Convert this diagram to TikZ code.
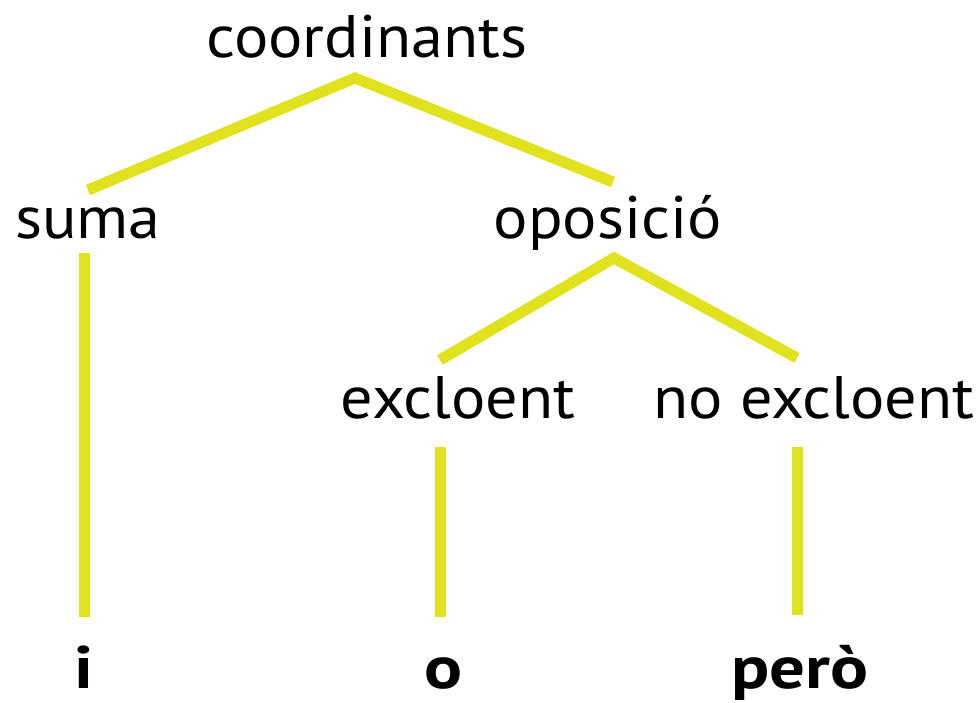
\documentclass[tikz,border=0pt]{standalone}
\usepackage{fontspec}
\setmainfont[FakeStretch=1.07]{PT Sans}
\newfontfamily\leaffont[FakeStretch=1.18]{PT Sans}
\definecolor{treeyellow}{RGB}{224,226,30}
\begin{document}
\begin{tikzpicture}[x=1pt,y=-1pt,
  lbl/.style={anchor=base,inner sep=0pt,font=\fontsize{60}{64}\selectfont},
  leaf/.style={anchor=base,inner sep=0pt,font=\leaffont\fontsize{60}{64}\selectfont\bfseries},
  branch/.style={draw=treeyellow,line width=11pt}]
\useasboundingbox (0,0) rectangle (979,702);
\node[lbl] (coord) at (367,57) {coordinants};
\node[lbl] (suma) at (88,238) {suma};
\node[lbl] (opos) at (608,238) {oposició};
\node[lbl] (excl) at (458,418) {excloent};
\node[lbl] (noexcl) at (814,418) {no excloent};
\node[leaf] (i) at (84,688) {i};
\node[leaf] (o) at (444,688) {o};
\node[leaf] (pero) at (800,688) {però};
\coordinate (a1) at (88,190);
\coordinate (a0) at (355,78);
\coordinate (a2) at (613,182);
\coordinate (b1) at (440,360);
\coordinate (b0) at (614,258);
\coordinate (b2) at (797,358);
\coordinate (s1) at (84,253);
\coordinate (s2) at (84,617);
\coordinate (e1) at (440,447);
\coordinate (e2) at (440,617);
\coordinate (n1) at (797,447);
\coordinate (n2) at (797,615);
\draw[branch] (a1) -- (a0) -- (a2);
\draw[branch] (b1) -- (b0) -- (b2);
\draw[branch] (s1) -- (s2);
\draw[branch] (e1) -- (e2);
\draw[branch] (n1) -- (n2);
\end{tikzpicture}
\end{document}
